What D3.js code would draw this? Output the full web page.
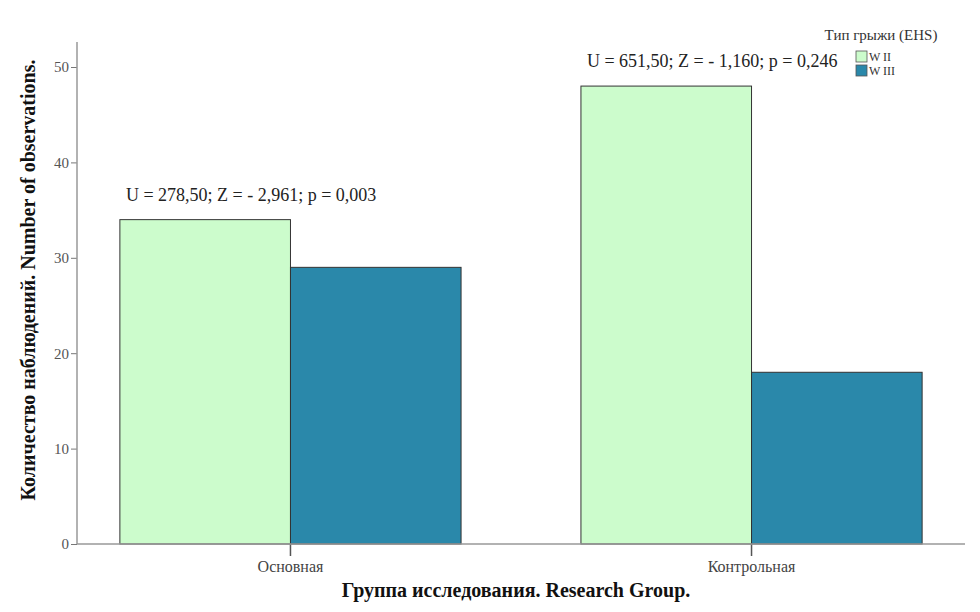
<!DOCTYPE html>
<html>
<head>
<meta charset="utf-8">
<script src="https://cdnjs.cloudflare.com/ajax/libs/d3/7.8.5/d3.min.js"></script>
<style>
  body { margin: 0; background: #fff; }
  svg text { font-family: "Liberation Serif", "DejaVu Serif", serif; }
</style>
</head>
<body>
<div id="chart"></div>
<script>
  var groups = ["Основная", "Контрольная"];
  var series = ["W II", "W III"];
  var valuesWII = [34, 48];
  var valuesWIII = [29, 18];
  var annotations = ["U = 278,50; Z = - 2,961; p = 0,003", "U = 651,50; Z = - 1,160; p = 0,246"];
  var yTicks = [0, 10, 20, 30, 40, 50];

  var colors = ["#ccfccc", "#2a88aa"];
  var width = 980, height = 612;

  var svg = d3.select("#chart").append("svg")
    .attr("width", width)
    .attr("height", height);

  var x0 = d3.scaleBand().domain(groups).range([77, 965])
    .paddingInner(0.26).paddingOuter(0.093);
  var x1 = d3.scaleBand().domain(series).range([0, x0.bandwidth()]);
  var y = d3.scaleLinear().domain([0, 50]).range([544, 67]);

  var data = groups.map(function (g, i) {
    return { group: g, vals: [valuesWII[i], valuesWIII[i]], note: annotations[i] };
  });

  // y axis
  var yAxis = svg.append("g").attr("transform", "translate(77,0)")
    .call(d3.axisLeft(y).tickValues(yTicks).tickSize(6).tickPadding(2).tickSizeOuter(0))
    .attr("font-family", null);
  yAxis.select(".domain").remove();
  yAxis.append("line").attr("x1", 0).attr("x2", 0).attr("y1", 42).attr("y2", 544)
    .attr("stroke", "#999").attr("stroke-width", 1.5);
  yAxis.selectAll(".tick line").attr("stroke", "#777");
  yAxis.selectAll(".tick text").attr("fill", "#555").style("font-size", "15px");

  // bars
  var g = svg.selectAll(".grp").data(data).enter().append("g")
    .attr("transform", function (d) { return "translate(" + x0(d.group) + ",0)"; });
  g.selectAll("rect").data(function (d) { return d.vals; }).enter().append("rect")
    .attr("x", function (d, i) { return x1(series[i]); })
    .attr("y", function (d) { return y(d); })
    .attr("width", x1.bandwidth())
    .attr("height", function (d) { return y(0) - y(d); })
    .attr("fill", function (d, i) { return colors[i]; })
    .attr("stroke", "#333").attr("stroke-width", 1);

  // annotations
  g.append("text")
    .attr("x", 6)
    .attr("y", function (d) { return y(d3.max(d.vals)) - 19; })
    .style("font-size", "18px").attr("fill", "#222")
    .text(function (d) { return d.note; });

  // x axis
  var xAxis = svg.append("g").attr("transform", "translate(0,544)")
    .call(d3.axisBottom(x0).tickSize(12).tickPadding(5).tickSizeOuter(0))
    .attr("font-family", null);
  xAxis.select(".domain").remove();
  xAxis.append("line").attr("x1", 77).attr("x2", 965).attr("y1", 0).attr("y2", 0)
    .attr("stroke", "#999").attr("stroke-width", 1.5);
  xAxis.selectAll(".tick line").attr("stroke", "#555").attr("stroke-width", 1.5);
  xAxis.selectAll(".tick text").attr("fill", "#444").style("font-size", "16px");

  // axis titles
  svg.append("text")
    .attr("x", 516).attr("y", 597).attr("text-anchor", "middle")
    .style("font-size", "20px").style("font-weight", "bold").attr("fill", "#111")
    .text("Группа исследования. Research Group.");
  svg.append("text")
    .attr("transform", "translate(35,280) rotate(-90)").attr("text-anchor", "middle")
    .style("font-size", "20px").style("font-weight", "bold").attr("fill", "#111")
    .text("Количество наблюдений. Number of observations.");

  // legend
  var lg = svg.append("g").attr("transform", "translate(856,0)");
  lg.append("text").attr("x", 25).attr("y", 40).attr("text-anchor", "middle")
    .style("font-size", "15px").attr("fill", "#333").text("Тип грыжи (EHS)");
  series.forEach(function (s, i) {
    lg.append("rect").attr("x", 0).attr("y", 51 + i * 14).attr("width", 11).attr("height", 11)
      .attr("fill", colors[i]).attr("stroke", "#555").attr("stroke-width", 0.8);
    lg.append("text").attr("x", 13).attr("y", 61 + i * 14)
      .style("font-size", "12px").attr("fill", "#333").text(s);
  });
</script>
</body>
</html>
